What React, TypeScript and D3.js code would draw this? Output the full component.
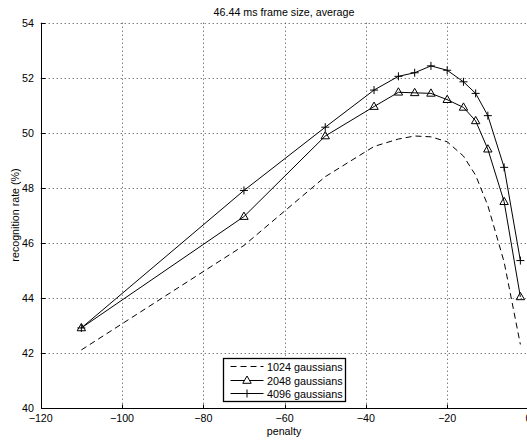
import { useEffect, useRef } from 'react';
import * as d3 from 'd3';

const penalties = [-110, -70, -50, -38, -32, -28, -24, -20, -16, -13, -10, -6, -2];
const rate1024 = [42.1, 45.9, 48.4, 49.5, 49.77, 49.88, 49.85, 49.67, 49.15, 48.45, 47.35, 45.3, 42.3];
const rate2048 = [42.9, 46.95, 49.88, 50.95, 51.47, 51.45, 51.43, 51.2, 50.92, 50.43, 49.4, 47.49, 44.03];
const rate4096 = [42.9, 47.9, 50.2, 51.55, 52.05, 52.18, 52.43, 52.27, 51.85, 51.43, 50.62, 48.74, 45.35];
const seriesNames = ['1024 gaussians', '2048 gaussians', '4096 gaussians'];
const xTicks = [-120, -100, -80, -60, -40, -20, 0];
const yTicks = [40, 42, 44, 46, 48, 50, 52, 54];

const W = 527;
const H = 443;
const FONT = '"Liberation Sans", Arial, Helvetica, sans-serif';

export default function App() {
  const svgRef = useRef(null);

  useEffect(() => {
    const svg = d3.select(svgRef.current);
    svg.selectAll('*').remove();

    const x = d3.scaleLinear().domain([-120, 0]).range([40.7, 528.5]);
    const y = d3.scaleLinear().domain([40, 54]).range([407.7, 22.7]);

    // grid
    const grid = svg.append('g')
      .attr('stroke', '#444')
      .attr('stroke-width', 1)
      .attr('stroke-dasharray', '1,3');
    xTicks.filter(t => t !== -120).forEach(t => {
      grid.append('line')
        .attr('x1', Math.round(x(t)) + 0.5).attr('x2', Math.round(x(t)) + 0.5)
        .attr('y1', y(54)).attr('y2', y(40));
    });
    yTicks.filter(t => t !== 40).forEach(t => {
      grid.append('line')
        .attr('x1', x(-120)).attr('x2', W)
        .attr('y1', Math.round(y(t)) + 0.5).attr('y2', Math.round(y(t)) + 0.5);
    });

    // axes
    const ax = svg.append('g').attr('stroke', '#000').attr('stroke-width', 1);
    const x0 = Math.round(x(-120)) + 0.5;
    const y0 = Math.round(y(40)) + 0.5;
    ax.append('line').attr('x1', x0).attr('x2', x0).attr('y1', y(54)).attr('y2', y0);
    ax.append('line').attr('x1', x0).attr('x2', W).attr('y1', y0).attr('y2', y0);
    xTicks.forEach(t => {
      const px = Math.round(x(t)) + 0.5;
      ax.append('line').attr('x1', px).attr('x2', px).attr('y1', y0).attr('y2', y0 - 4);
    });
    yTicks.forEach(t => {
      const py = Math.round(y(t)) + 0.5;
      ax.append('line').attr('x1', x0).attr('x2', x0 + 4).attr('y1', py).attr('y2', py);
    });

    const fmt = (v) => (v < 0 ? '\u2212' + Math.abs(v) : String(v));
    xTicks.forEach(t => {
      svg.append('text')
        .attr('x', x(t)).attr('y', y(40) + 14)
        .attr('text-anchor', 'middle')
        .style('font-family', FONT).style('font-size', '10.7px')
        .text(fmt(t));
    });
    yTicks.forEach(t => {
      svg.append('text')
        .attr('x', 34).attr('y', y(t) + 4)
        .attr('text-anchor', 'end')
        .style('font-family', FONT).style('font-size', '10.7px')
        .text(String(t));
    });

    svg.append('text')
      .attr('x', 284).attr('y', 15.5)
      .attr('text-anchor', 'middle')
      .style('font-family', FONT).style('font-size', '10.7px')
      .text('46.44 ms frame size, average');
    svg.append('text')
      .attr('x', 284).attr('y', 435)
      .attr('text-anchor', 'middle')
      .style('font-family', FONT).style('font-size', '10.7px')
      .text('penalty');
    svg.append('text')
      .attr('transform', `translate(19,215) rotate(-90)`)
      .attr('text-anchor', 'middle')
      .style('font-family', FONT).style('font-size', '10.7px')
      .text('recognition rate (%)');

    const line = d3.line()
      .x(d => x(d[0]))
      .y(d => y(d[1]));

    const data = [rate1024, rate2048, rate4096].map(r => penalties.map((p, i) => [p, r[i]]));

    svg.append('path')
      .attr('d', line(data[0]))
      .attr('fill', 'none').attr('stroke', '#000').attr('stroke-width', 1)
      .attr('stroke-dasharray', '6,4');
    svg.append('path')
      .attr('d', line(data[1]))
      .attr('fill', 'none').attr('stroke', '#000').attr('stroke-width', 1);
    svg.append('path')
      .attr('d', line(data[2]))
      .attr('fill', 'none').attr('stroke', '#000').attr('stroke-width', 1);

    const tri = 'M0,-4.5L4.2,2.8L-4.2,2.8Z';
    const plus = 'M-4,0L4,0M0,-4L0,4';

    svg.append('g').selectAll('path')
      .data(data[1])
      .join('path')
      .attr('transform', d => `translate(${x(d[0])},${y(d[1])})`)
      .attr('d', tri)
      .attr('fill', 'none').attr('stroke', '#000').attr('stroke-width', 1);
    svg.append('g').selectAll('path')
      .data(data[2])
      .join('path')
      .attr('transform', d => `translate(${x(d[0])},${y(d[1])})`)
      .attr('d', plus)
      .attr('fill', 'none').attr('stroke', '#000').attr('stroke-width', 1);

    // legend
    const lg = svg.append('g');
    lg.append('rect')
      .attr('x', 223.5).attr('y', 358.5).attr('width', 122).attr('height', 43)
      .attr('fill', '#fff').attr('stroke', '#000').attr('stroke-width', 1.3);
    const rowsY = [366.5, 380.5, 393.5];
    seriesNames.forEach((name, i) => {
      const ly = rowsY[i];
      const l = lg.append('line')
        .attr('x1', 230.5).attr('x2', 263.5).attr('y1', ly).attr('y2', ly)
        .attr('stroke', '#000').attr('stroke-width', 1);
      if (i === 0) l.attr('stroke-dasharray', '6,4');
      if (i === 1) lg.append('path').attr('transform', `translate(247,${ly})`).attr('d', tri)
        .attr('fill', '#fff').attr('stroke', '#000');
      if (i === 2) lg.append('path').attr('transform', `translate(247,${ly})`).attr('d', plus)
        .attr('fill', 'none').attr('stroke', '#000');
      lg.append('text')
        .attr('x', 267).attr('y', ly + 4)
        .style('font-family', FONT).style('font-size', '10.8px')
        .text(name);
    });
  }, []);

  return (
    <div style={{ position: 'fixed', left: 0, top: 0, width: W, height: H, background: '#fff' }}>
      <svg ref={svgRef} width={W} height={H} style={{ display: 'block' }}></svg>
    </div>
  );
}
